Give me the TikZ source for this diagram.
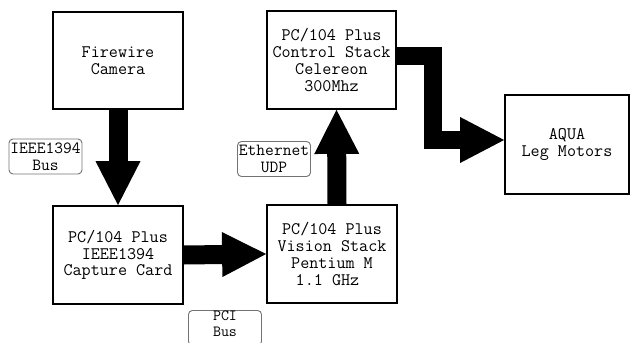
\documentclass[tikz,border=0pt]{standalone}
\usetikzlibrary{arrows.meta}
\begin{document}
\begin{tikzpicture}[x=1pt,y=-1pt,
  blk/.style={draw=black,line width=1.8pt,minimum width=#1,align=center,
    font=\fontsize{17.6}{16.8}\ttfamily,inner sep=0pt},
  lbl/.style={draw=black!55,line width=0.9pt,rounded corners=4pt,align=center,
    font=\fontsize{17}{17}\ttfamily,inner sep=0pt,minimum width=73pt,minimum height=35pt},
  fat/.style={line width=19pt,-{Triangle[width=45pt,length=44pt,line width=0pt]}},
  fatj/.style={line width=18pt,line join=miter,-{Triangle[width=46pt,length=44pt,line width=0pt]}}]
\useasboundingbox (0,0) rectangle (630,343);
\clip (0,0) rectangle (630,343);
\node[blk=130pt,minimum height=97pt] (cam) at (118,60.5) {Firewire\\Camera};
\node[blk=130pt,minimum height=98pt] (cap) at (118,255) {PC/104 Plus\\IEEE1394\\Capture Card};
\node[blk=130pt,minimum height=98pt] (vis) at (332,254) {PC/104 Plus\\Vision Stack\\Pentium M\\1.1 GHz\phantom{x}};
\node[blk=129pt,minimum height=98pt] (ctrl) at (331.5,60) {PC/104 Plus\\Control Stack\\Celereon\\300Mhz};
\node[blk=124pt,minimum height=99pt] (aqua) at (567,144.5) {AQUA\\Leg Motors};
\node[lbl] (l1) at (45.5,156.5) {IEEE1394\\Bus};
\node[lbl] (l2) at (274,159) {Ethernet\\UDP};
\node[lbl,anchor=north,font=\fontsize{15.5}{15.5}\ttfamily,text depth=9pt] (l3) at (225,310) {PCI\\Bus};
\draw[fat] (cam.south) -- (cap.north);
\draw[fat] (cap.east) -- (vis.west);
\draw[fat] ([xshift=5pt]vis.north) -- ([xshift=5pt]ctrl.south);
\coordinate (e1) at ([yshift=4pt]ctrl.east);
\coordinate (e2) at ([yshift=4.5pt]aqua.west);
\coordinate (mx) at (433,0);
\draw[fatj] (e1) -- (e1 -| mx) -- (e2 -| mx) -- (e2);
\end{tikzpicture}
\end{document}
